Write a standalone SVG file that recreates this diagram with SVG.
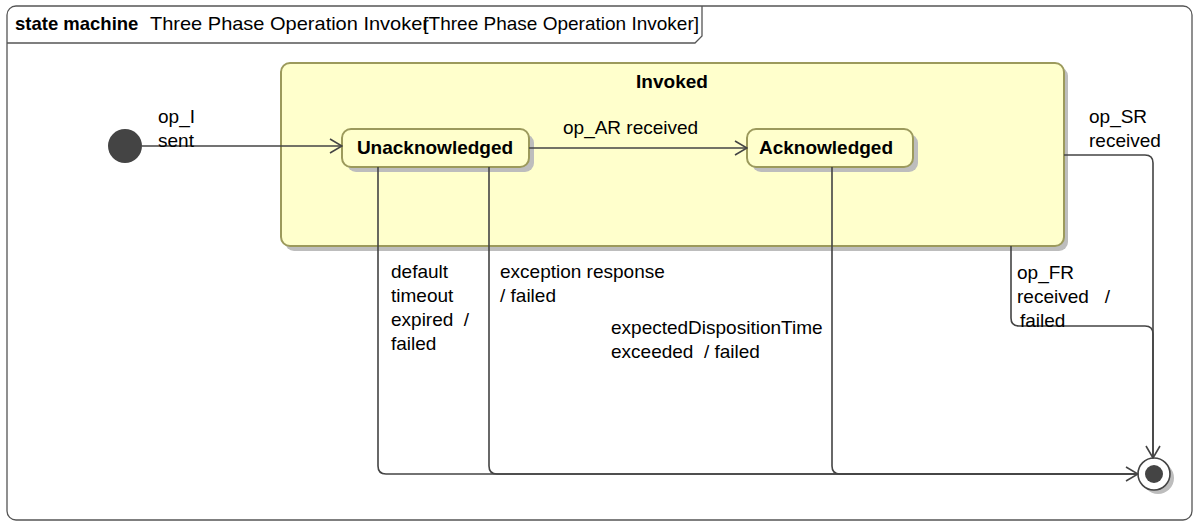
<svg xmlns="http://www.w3.org/2000/svg" width="1199" height="527" viewBox="0 0 1199 527">
<defs>
<style>
text{font-family:"Liberation Sans",Arial,sans-serif;font-size:19px;fill:#000;white-space:pre}
.b{font-weight:bold}
.st{fill:#FFFFCC;stroke:#9C9A5C;stroke-width:2}
.sh{fill:#BDBDBD}
.c{fill:none;stroke:#444;stroke-width:1.6}
.fr{fill:#fff;stroke:#555;stroke-width:1.3}
</style>
<marker id="arr" viewBox="0 0 14 16" refX="13" refY="8" markerWidth="14" markerHeight="16" markerUnits="userSpaceOnUse" orient="auto">
<path d="M1,1 L13,8 L1,15" fill="none" stroke="#444" stroke-width="1.6"/>
</marker>
</defs>
<rect width="1199" height="527" fill="#fff"/>
<g id="frame">
<rect class="fr" x="7" y="6" width="1185" height="514" rx="9"/>
<path d="M7,43 H695 L702,36 V6" fill="none" stroke="#555" stroke-width="1.3"/>
<text x="15" y="30" class="b" style="font-size:18.5px">state machine</text>
<text x="150" y="30" textLength="279" lengthAdjust="spacingAndGlyphs">Three Phase Operation Invoker</text>
<text x="699" y="30" text-anchor="end">[Three Phase Operation Invoker]</text>
</g>
<g id="invoked">
<rect class="sh" x="285" y="67" width="783" height="184" rx="9"/>
<rect class="st" x="281" y="63" width="783" height="183" rx="9"/>
<text x="672" y="88" class="b" text-anchor="middle">Invoked</text>
</g>
<g id="initial">
<circle cx="125" cy="146" r="17" fill="#444"/>
</g>
<g id="unacknowledged">
<rect class="sh" x="347" y="134" width="187" height="38" rx="9"/>
<rect class="st" x="342" y="129" width="187" height="38" rx="9"/>
<text x="435" y="154" class="b" text-anchor="middle">Unacknowledged</text>
</g>
<g id="acknowledged">
<rect class="sh" x="752" y="134" width="166" height="38" rx="9"/>
<rect class="st" x="747" y="129" width="166" height="38" rx="9"/>
<text x="826" y="154" class="b" text-anchor="middle">Acknowledged</text>
</g>
<g id="final">
<circle cx="1158" cy="478" r="16" fill="#BDBDBD"/>
<circle cx="1154" cy="474" r="16" fill="#fff" stroke="#444" stroke-width="1.6"/>
<circle cx="1154" cy="474" r="9" fill="#444"/>
</g>
<g id="connectors">
<path class="c" d="M142,146 H342" marker-end="url(#arr)"/>
<path class="c" d="M529,148 H747" marker-end="url(#arr)"/>
<path class="c" d="M378,167 V466 Q378,474 386,474 H1138" marker-end="url(#arr)"/>
<path class="c" d="M489,167 V466 Q489,474 497,474 H1138"/>
<path class="c" d="M832,167 V466 Q832,474 840,474 H1138"/>
<path class="c" d="M1064,155 H1145 Q1153,155 1153,163 V458" marker-end="url(#arr)"/>
<path class="c" d="M1011,246 V318 Q1011,326 1019,326 H1145 Q1153,326 1153,334 V458"/>
</g>
<g id="labels">
<text x="158" y="123">op_I</text>
<text x="158" y="147">sent</text>
<text x="563" y="134">op_AR received</text>
<text x="1089" y="123">op_SR</text>
<text x="1089" y="147">received</text>
<text x="391" y="278">default</text>
<text x="391" y="302">timeout</text>
<text x="391" y="326">expired  /</text>
<text x="391" y="350">failed</text>
<text x="500" y="278">exception response</text>
<text x="500" y="302">/ failed</text>
<text x="611" y="334">expectedDispositionTime</text>
<text x="611" y="358">exceeded  / failed</text>
<text x="1017" y="279">op_FR</text>
<text x="1017" y="303">received   /</text>
<text x="1020" y="327">failed</text>
</g>
</svg>
